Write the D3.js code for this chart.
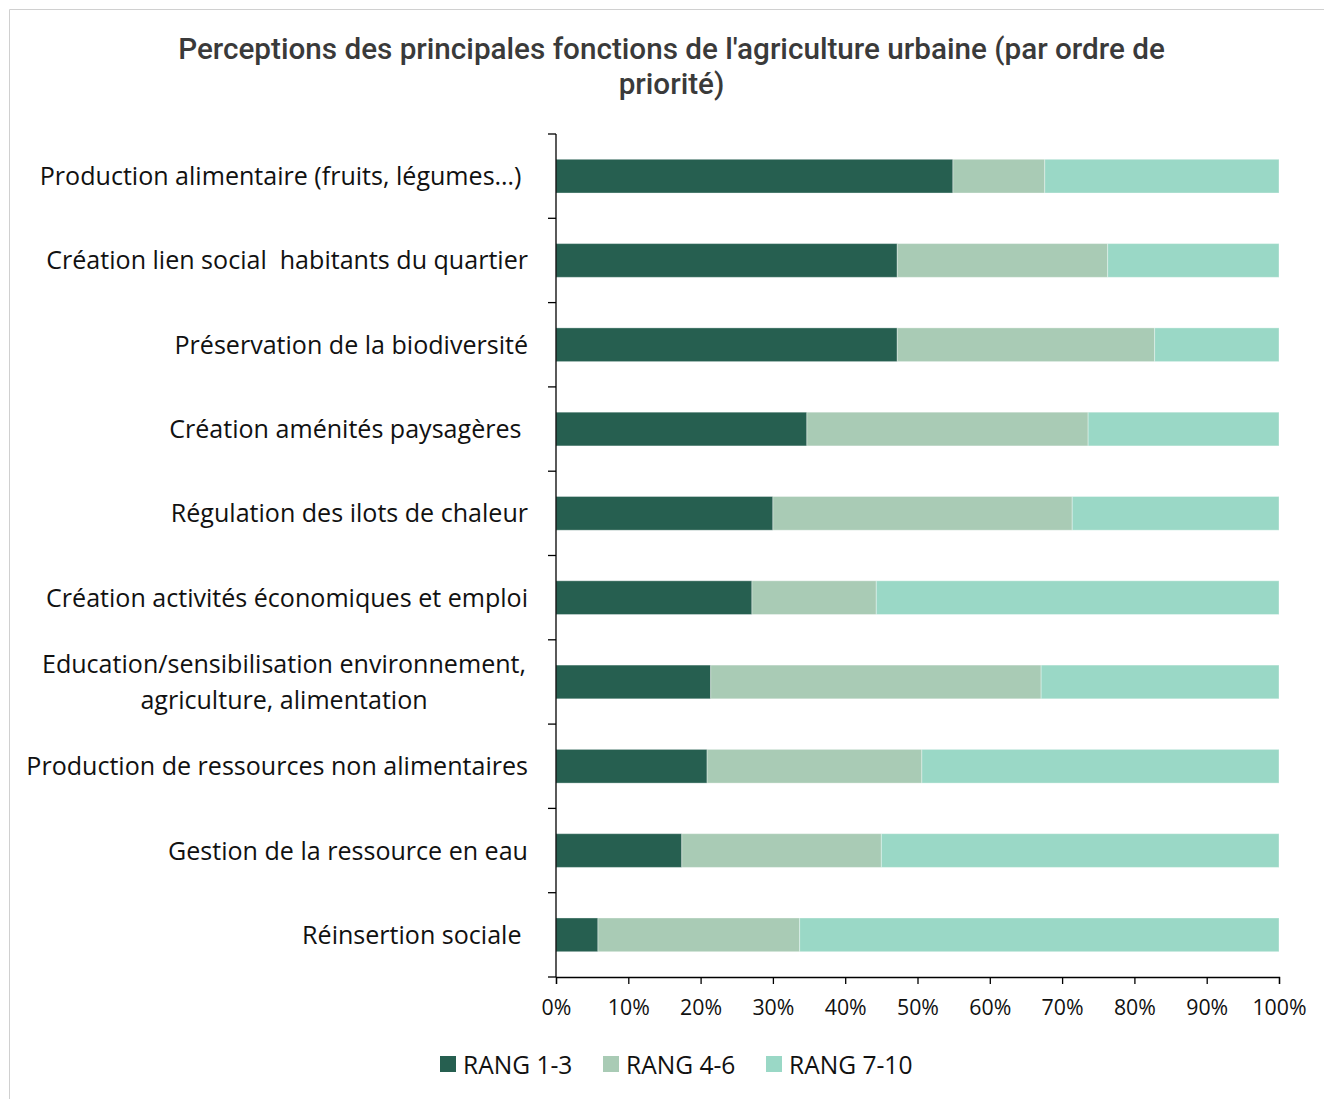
<!DOCTYPE html>
<html><head><meta charset="utf-8">
<script src="https://cdn.jsdelivr.net/npm/d3@7"></script>
<style>
body{margin:0;background:#fff;}
svg text{white-space:pre;}
</style></head>
<body>
<svg id="chart" width="1324" height="1099"></svg>
<script>
const categories = [
  "Production alimentaire (fruits, légumes…) ",
  "Création lien social  habitants du quartier",
  "Préservation de la biodiversité",
  "Création aménités paysagères ",
  "Régulation des ilots de chaleur",
  "Création activités économiques et emploi",
  "Education/sensibilisation environnement,\nagriculture, alimentation",
  "Production de ressources non alimentaires",
  "Gestion de la ressource en eau",
  "Réinsertion sociale "
];
const seriesNames = ["RANG 1-3", "RANG 4-6", "RANG 7-10"];
const rang13 = [54.9, 47.2, 47.2, 34.7, 30.0, 27.1, 21.4, 20.9, 17.4, 5.8];
const rang46 = [12.7, 29.1, 35.6, 38.9, 41.4, 17.2, 45.7, 29.7, 27.6, 27.9];
const rang710 = [32.4, 23.7, 17.2, 26.4, 28.6, 55.7, 32.9, 49.4, 55.0, 66.3];
const xTicks = [0,10,20,30,40,50,60,70,80,90,100];
const colors = ["#265F50", "#A9CBB5", "#9AD8C6"];
const titleLines = ["Perceptions des principales fonctions de l'agriculture urbaine (par ordre de", "priorité)"];

const svg = d3.select("#chart");
svg.append("path").attr("d","M9.5,1099 L9.5,9.5 L1324,9.5").attr("fill","none").attr("stroke","#d0d0d0").attr("stroke-width",1);

// title
const title = svg.append("g");
titleLines.forEach((t,i)=>{
  title.append("text").attr("x",671.5).attr("y",48 + i*35).attr("text-anchor","middle")
    .attr("dominant-baseline","central")
    .attr("font-family","Roboto").attr("font-weight",500).attr("font-size",25)
    .attr("fill","#3a3a3a").text(t);
});
{
  const w = title.select("text").node().getComputedTextLength();
  title.selectAll("text").attr("font-size", 25 * 987 / w);
}

const x = d3.scaleLinear().domain([0,100]).range([556,1279]);
const y = d3.scaleBand().domain(categories).range([134,977]).paddingInner(0.6).paddingOuter(0.3);

const stackData = categories.map((c,i)=>({cat:c, s0:rang13[i], s1:rang46[i], s2:rang710[i]}));
const series = d3.stack().keys(["s0","s1","s2"])(stackData);

svg.append("g").selectAll("g").data(series).join("g")
  .attr("fill",(d,i)=>colors[i])
  .selectAll("rect").data(d=>d).join("rect")
  .attr("x",d=>x(d[0]))
  .attr("width",d=>x(Math.min(d[1],100))-x(d[0]))
  .attr("y",d=>y(d.data.cat))
  .attr("height",y.bandwidth())
  .attr("stroke","rgba(255,255,255,0.35)").attr("stroke-width",1);

// y axis
const yAxisG = svg.append("g");
yAxisG.append("line").attr("x1",556).attr("x2",556).attr("y1",134).attr("y2",977).attr("stroke","#000").attr("stroke-width",1.3);
d3.range(categories.length+1).forEach(i=>{
  const yy = 134 + i*(843/categories.length);
  yAxisG.append("line").attr("x1",548).attr("x2",556).attr("y1",yy).attr("y2",yy).attr("stroke","#000").attr("stroke-width",1.3);
});

const FONT = "'Open Sans'";
let labelFont = 23;
{
  const probe = svg.append("text").attr("font-family",FONT).attr("font-size",23).text(categories[7]);
  labelFont = 23 * 502 / probe.node().getComputedTextLength();
  probe.remove();
}
const labels = svg.append("g").attr("font-family",FONT).attr("font-size",labelFont).attr("fill","#111");
categories.forEach(c=>{
  const lines = c.split("\n");
  const cy = y(c) + y.bandwidth()/2 - 1;
  if(lines.length===1){
    labels.append("text").attr("x",528).attr("y",cy).attr("text-anchor","end").attr("dominant-baseline","central").text(lines[0]);
  } else {
    lines.forEach((l,j)=>{
      labels.append("text").attr("x",284).attr("y",cy + (j-0.5)*36).attr("text-anchor","middle").attr("dominant-baseline","central").text(l);
    });
  }
});

// x axis
const xAxis = d3.axisBottom(x).tickValues(xTicks).tickFormat(d=>d+"%").tickSize(7).tickPadding(16);
const xg = svg.append("g").attr("transform","translate(0,977)").call(xAxis);
xg.select(".domain").attr("stroke","#000").attr("stroke-width",1.3);
xg.selectAll(".tick line").attr("stroke","#000").attr("stroke-width",1.3);
xg.selectAll(".tick text").attr("font-family",FONT).attr("font-size",labelFont*0.85).attr("fill","#111");

// legend
const legendX = [440, 603, 766];
seriesNames.forEach((n,i)=>{
  svg.append("rect").attr("x",legendX[i]).attr("y",1056).attr("width",16).attr("height",16).attr("fill",colors[i]);
  svg.append("text").attr("x",legendX[i]+23).attr("y",1064).attr("dominant-baseline","central")
    .attr("font-family",FONT).attr("font-size",labelFont*0.98).attr("fill","#111").text(n);
});
</script>
</body></html>
